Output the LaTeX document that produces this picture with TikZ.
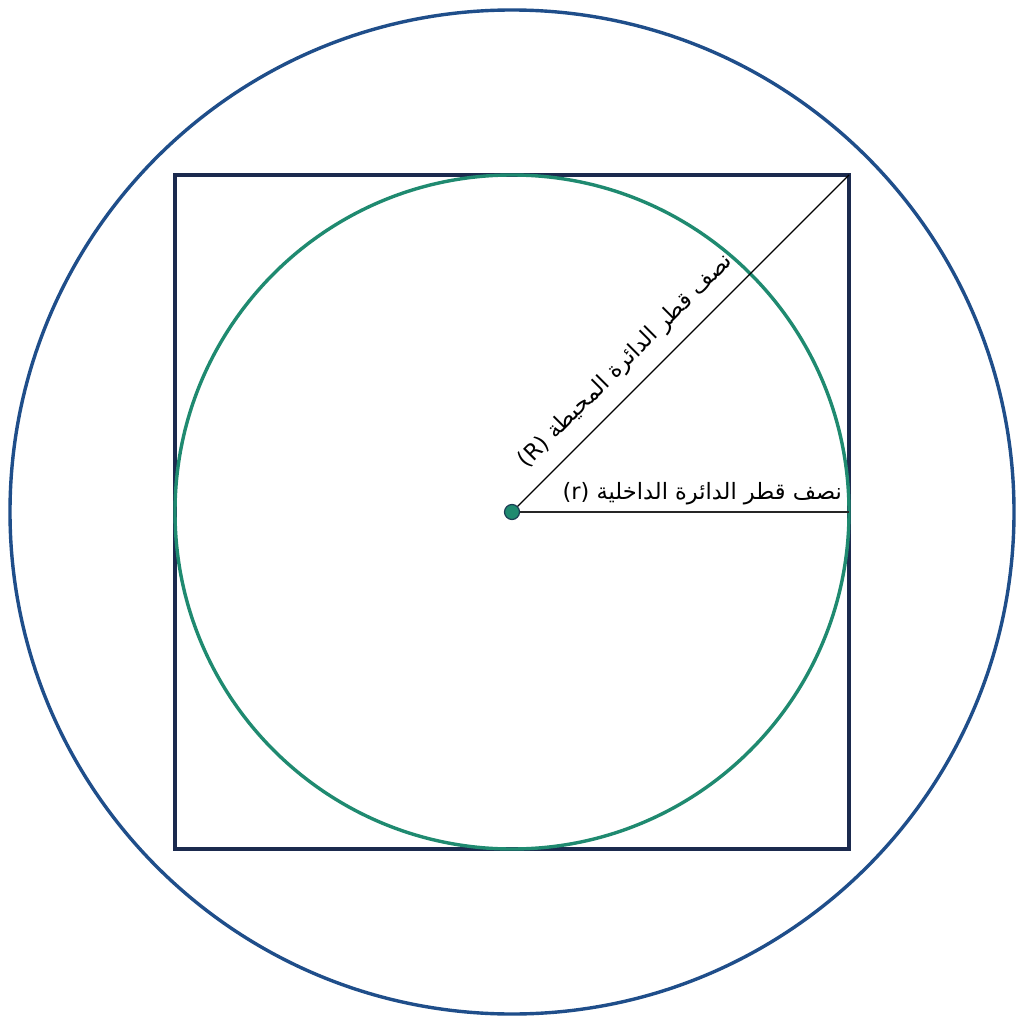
\documentclass[tikz,border=0pt]{standalone}
\usepackage{fontspec}
\TeXXeTstate=1
\newfontfamily\arabicfont[Script=Arabic]{DejaVu Sans}
\definecolor{outerblue}{HTML}{1F4E8A}
\definecolor{sqnavy}{HTML}{1B2A4E}
\definecolor{ingreen}{HTML}{1F8A70}
\tikzset{
  outercirc/.style={draw=outerblue, line width=3.4pt},
  sqbox/.style={draw=sqnavy, line width=3.4pt},
  incirc/.style={draw=ingreen, line width=3.4pt},
  radline/.style={draw=black, line width=1.2pt},
  radlineh/.style={draw=black!85, line width=1.8pt},
  lbl/.style={font=\arabicfont\fontsize{22.5}{26}\selectfont, inner sep=1pt},
  centerdot/.style={circle, fill=ingreen, draw=sqnavy!80!ingreen, line width=1.2pt, minimum size=15pt, inner sep=0pt}
}
\begin{document}
\begin{tikzpicture}[x=1pt,y=-1pt]
\useasboundingbox (0,0) rectangle (1024,1024);
\fill[white] (0,0) rectangle (1024,1024);
\coordinate (O) at (512,512);
\coordinate (C) at (849,175);
\coordinate (E) at (849,512);
\draw[outercirc] (O) circle (502);
\draw[sqbox] (175,175) rectangle (849,849);
\draw[incirc] (O) circle (337);
\draw[radline] (O) -- (C);
\draw[radlineh] (O) -- (E);
\node[centerdot] (dot) at (O) {};
\node[lbl, rotate=45] (Rlbl) at (626,361) {\beginR نصف قطر الدائرة المحيطة \beginL(R)\endL\endR};
\node[lbl, anchor=base east] (rlbl) at (843,499) {\beginR نصف قطر الدائرة الداخلية \beginL(r)\endL\endR};
\end{tikzpicture}
\end{document}
